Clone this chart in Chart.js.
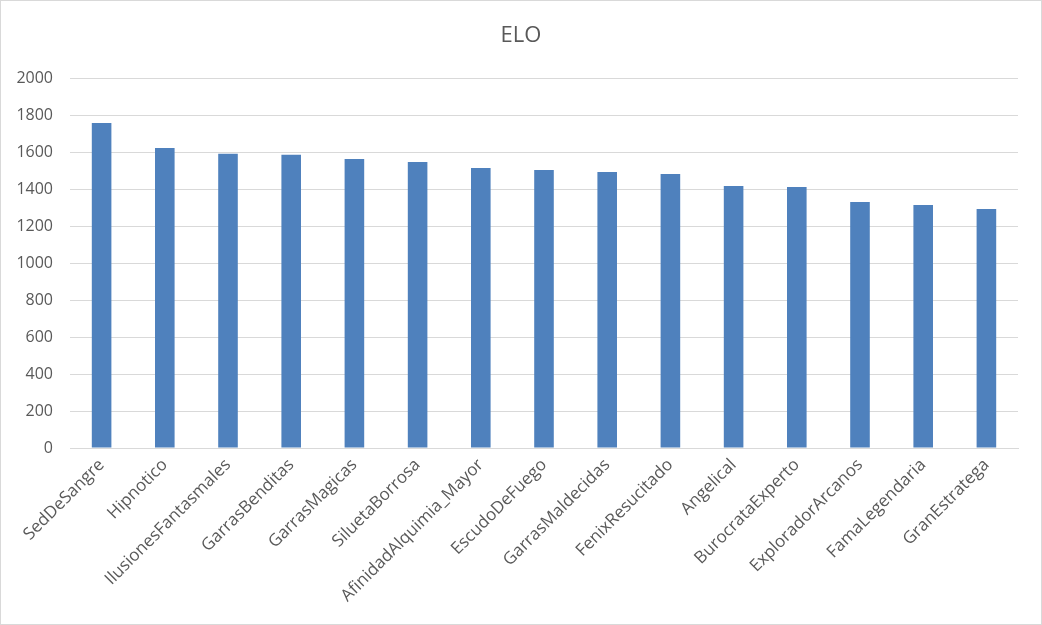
<!DOCTYPE html>
<html>
<head>
<meta charset="utf-8">
<script src="https://cdn.jsdelivr.net/npm/chart.js@4/dist/chart.umd.min.js"></script>
<style>
html,body{margin:0;padding:0;background:#fff;}
#wrap{width:1042px;height:625px;box-sizing:border-box;border:1px solid #D9D9D9;position:relative;}
canvas{display:block;}
</style>
</head>
<body>
<div id="wrap"><canvas id="c" width="1040" height="623"></canvas></div>
<script>
const categories = ["SedDeSangre","Hipnotico","IlusionesFantasmales","GarrasBenditas","GarrasMagicas","SiluetaBorrosa","AfinidadAlquimia_Mayor","EscudoDeFuego","GarrasMaldecidas","FenixResucitado","Angelical","BurocrataExperto","ExploradorArcanos","FamaLegendaria","GranEstratega"];
const eloValues = [1757,1622,1591,1585,1562,1546,1514,1503,1492,1481,1416,1411,1330,1314,1292];
const yTicks = [0,200,400,600,800,1000,1200,1400,1600,1800,2000];
const chartTitle = "ELO";

const FONT = "'Open Sans', 'Liberation Sans', sans-serif";
const TXT = "#595959";

const centeredTitle = {
  id: 'centeredTitle',
  afterDraw(chart) {
    const ctx = chart.ctx;
    ctx.save();
    ctx.fillStyle = TXT;
    ctx.font = "22px " + FONT;
    ctx.textAlign = 'center';
    ctx.textBaseline = 'middle';
    ctx.fillText(chartTitle, chart.width / 2, 35);
    ctx.restore();
  }
};

new Chart(document.getElementById('c'), {
  type: 'bar',
  data: {
    labels: categories,
    datasets: [{
      label: chartTitle,
      data: eloValues,
      backgroundColor: '#4F81BD',
      borderWidth: 0,
      categoryPercentage: 1,
      barPercentage: 0.31
    }]
  },
  options: {
    responsive: false,
    animation: false,
    layout: { padding: { left: 0, right: 23, top: 77, bottom: 0 } },
    plugins: {
      legend: { display: false },
      tooltip: { enabled: false },
      title: { display: false }
    },
    scales: {
      x: {
        grid: { display: false, drawTicks: false },
        border: { display: true, color: '#D9D9D9', width: 1 },
        ticks: {
          color: TXT,
          font: { family: FONT, size: 17 },
          minRotation: 45,
          maxRotation: 45,
          padding: 7,
          autoSkip: false
        },
        afterFit: s => { s.height = 176; }
      },
      y: {
        min: 0,
        max: 2000,
        afterBuildTicks: s => { s.ticks = yTicks.map(v => ({ value: v })); },
        grid: { color: '#D9D9D9', drawTicks: false, lineWidth: 1 },
        border: { display: false },
        ticks: {
          color: TXT,
          font: { family: FONT, size: 16 },
          padding: 17,
          callback: v => String(v)
        },
        afterFit: s => { s.width = 69; }
      }
    }
  },
  plugins: [centeredTitle]
});
</script>
</body>
</html>
